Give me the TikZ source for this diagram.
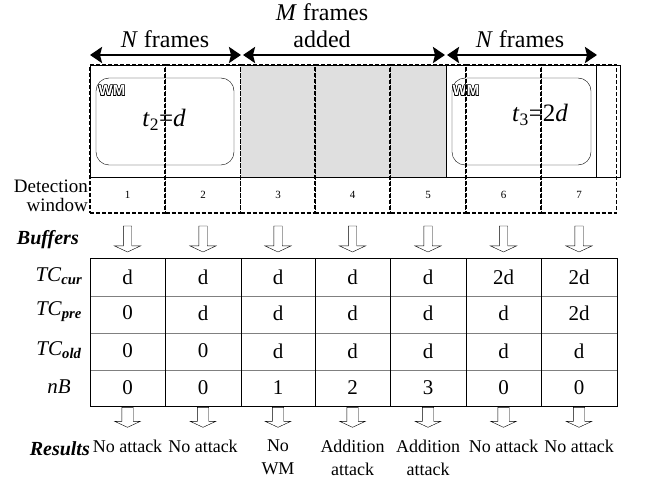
\documentclass[tikz,border=0pt]{standalone}
\usepackage{fontspec}
\setmainfont{Liberation Serif}
\newfontfamily\wmfont{Liberation Sans}
\usepackage{contour}
\contourlength{0.5pt}
\usetikzlibrary{arrows.meta,shapes.arrows,positioning}

\tikzset{
  window/.style={draw,line width=1.3pt,dash pattern=on 4pt off 2pt,
    minimum width=75pt,minimum height=148pt,inner sep=0pt},
  span/.style={{Stealth[length=12pt,width=16pt,inset=2pt]}-{Stealth[length=12pt,width=16pt,inset=2pt]},line width=2.8pt},
  bufarrow/.style={single arrow,draw,fill=white,shape border rotate=270,
    text height=0pt,text depth=0pt,text width=0pt,
    inner ysep=0pt,inner xsep=4pt,single arrow head extend=9pt,single arrow tip angle=130,
    minimum height=26pt},
  resarrow/.style={bufarrow,inner xsep=5.5pt,single arrow head extend=7pt,
    minimum height=20pt},
  big/.style={font=\fontsize{18}{23}\selectfont},
  head/.style={font=\fontsize{24}{27}\selectfont},
  small/.style={font=\fontsize{11}{13}\selectfont},
  val/.style={font=\fontsize{21}{21}\selectfont},
  wm/.style={font=\fontsize{15}{15}\wmfont\bfseries,white,inner sep=0pt},
}

\begin{document}
\begin{tikzpicture}[x=1pt,y=-1pt]
  \useasboundingbox (0,0) rectangle (645,481);
  % frames strip
  \fill[gray!25] (241,65) rectangle (446,177);
  \draw[thin] (90,65) rectangle (620,177);
  \draw[thin] (446,65) -- (446,177);
  \draw[semithick] (596,65) -- (596,177);
  \draw[rounded corners=13pt] (96,78) rectangle (234,165);
  \draw[rounded corners=13pt] (452,78) rectangle (591,165);
  \node[wm] (wm1) at (112,91) {\contour{black}{WM}};
  \node[wm] (wm2) at (466,91) {\contour{black}{WM}};
  \node[font=\fontsize{25}{25}\selectfont] (t2) at (164,120) {\textit{t}\textsubscript{2}=\textit{d}};
  \node[font=\fontsize{25}{25}\selectfont] (t3) at (540,115) {\textit{t}\textsubscript{3}=2\textit{d}};
  % detection windows
  \foreach \x [count=\i] in {127.5,203,278,352.5,428,503.5,579} {
    \node[window] (w\i) at (\x,139) {};
    \node[small] (n\i) at (\x,195) {\i};
  }
  \draw[thin] (90,177) -- (620,177);
  \node[font=\fontsize{19}{19}\selectfont,align=right,anchor=east,inner sep=1pt] (det) at (89,196) {Detection\\window};
  % spans
  \coordinate (s1) at (90,55);
  \coordinate (s2) at (241,55);
  \coordinate (s3) at (243,55);
  \coordinate (s4) at (445,55);
  \coordinate (s5) at (447,55);
  \coordinate (s6) at (597,55);
  \draw[span] (s1) -- (s2);
  \draw[span] (s3) -- (s4);
  \draw[span] (s5) -- (s6);
  \node[head] (nf1) at (165,39) {\textit{N} frames};
  \node[head] (mfr) at (322,12) {\textit{M} frames};
  \node[head] (madd) at (322,39) {added};
  \node[head] (nf2) at (520,39) {\textit{N} frames};
  % buffers
  \node[font=\fontsize{20}{20}\selectfont,anchor=east,inner sep=1pt] (buf) at (80,240) {\textbf{\textit{Buffers}}};
  \coordinate (ya) at (0,238);
  \coordinate (yb) at (0,416);
  \foreach \i in {1,...,7} {
    \node[bufarrow] (ba\i) at (n\i |- ya) {};
    \node[resarrow] (ra\i) at (n\i |- yb) {};
  }
  % table
  \draw[gray,thick] (90,296) -- (617,296) (90,333) -- (617,333) (90,370) -- (617,370);
  \foreach \x in {165,241,315,390,466,541}
    \draw (\x,258) -- (\x,406);
  \draw (90,258) rectangle (617,406);
  \foreach \r/\y/\lab/\vals in {
      1/277/{\textit{TC}\textsubscript{\textbf{\textit{cur}}}}/{d,d,d,d,d,2d,2d},
      2/313/{\textit{TC}\textsubscript{\textbf{\textit{pre}}}}/{0,d,d,d,d,d,2d},
      3/351/{\textit{TC}\textsubscript{\textbf{\textit{old}}}}/{0,0,d,d,d,d,d},
      4/388/{\textit{nB}}/{0,0,1,2,3,0,0}} {
    \coordinate (r\r) at (0,\y);
    \node[val] (lab\r) at (59,\y-1) {\lab};
    \foreach \v [count=\c] in \vals
      \node[val] (c\r-\c) at (n\c |- r\r) {\v};
  }
  % results
  \node[font=\fontsize{20}{20}\selectfont,anchor=east,inner sep=1pt] (res) at (91,449) {\textbf{\textit{Results}}};
  \coordinate (yr) at (0,440);
  \foreach \t [count=\i] in {No attack,No attack,No\\WM,Addition\\attack,Addition\\attack,No attack,No attack}
    \node[big,align=center,anchor=north,inner sep=0pt] (rs\i) at (n\i |- yr) {\t};
\end{tikzpicture}
\end{document}
